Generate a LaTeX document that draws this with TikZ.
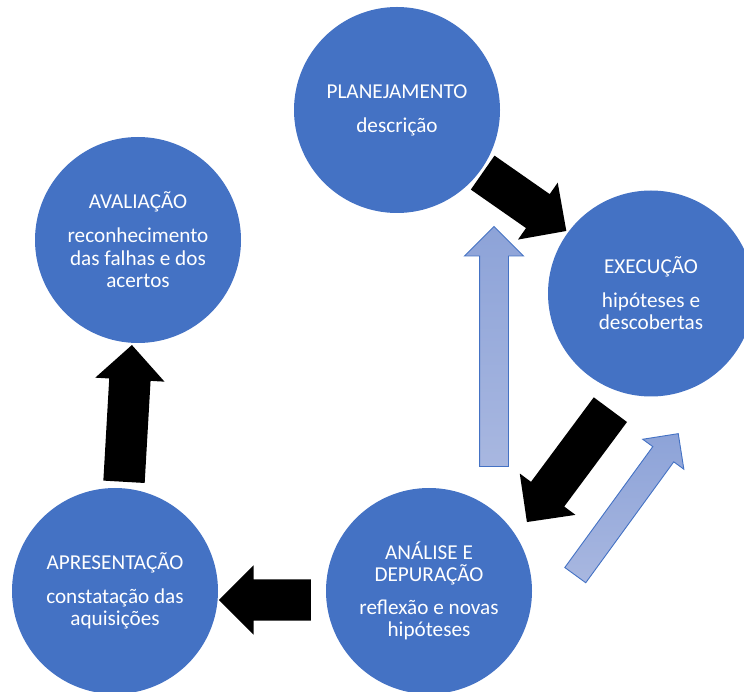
\documentclass[tikz,border=0pt]{standalone}
\usepackage{fontspec}
\setmainfont{Carlito}
\usetikzlibrary{shapes.arrows,positioning}

\definecolor{stageblue}{HTML}{4472C4}
\definecolor{backtip}{HTML}{8DA3D8}
\definecolor{backtail}{HTML}{A8B7E0}

\begin{document}
\begin{tikzpicture}[x=1pt, y=1pt, node distance = 314pt]

\tikzstyle{stage} = [circle, fill=stageblue, draw=none, minimum size=206pt, inner sep=0pt, text=white, align=center, font=\fontsize{21.2}{22.5}\selectfont]
\tikzstyle{flow} = [single arrow, fill=black, draw=none, anchor=tail, inner xsep=0pt, inner ysep=20.5pt, minimum width=1pt, single arrow head extend=14pt, single arrow tip angle=90]
\tikzstyle{back} = [single arrow, draw=stageblue, line width=0.9pt, top color=backtip, bottom color=backtail, anchor=tail, inner xsep=0pt, minimum width=1pt, single arrow tip angle=90]

\useasboundingbox (0,0) rectangle (744,691);

%% ------------
%% -- STAGES --
%% ------------

\node (planej) 		[stage] at (397,581) {PLANEJAMENTO\\[11.5pt]descrição};
\node (exec) 		[stage] at (651,397.5) {EXECUÇÃO\\[11pt]hipóteses e\\descobertas};
\node (apres) 		[stage] at (115,100) {APRESENTAÇÃO\\[11.5pt]constatação das\\aquisições};
\node (anal_dep) 	[stage, right of=apres] {ANÁLISE E\\DEPURAÇÃO\\[10pt]reflexão e novas\\hipóteses};
\node (aval) 		[stage] at (138,451) {AVALIAÇÃO\\[11.5pt]reconhecimento\\das falhas e dos\\acertos};

%% ------------
%% -- ARROWS --
%% ------------

% main cycle
\node (planej_exec) 	[flow, rotate=-34.9, minimum height=102pt] at (482.5,518.5) {};
\node (exec_anal) 	[flow, rotate=-126.6, minimum height=140pt] at (610.5,281.5) {};
\node (anal_apres) 	[flow, rotate=180, minimum height=92pt] at (311,91) {};
\node (apres_aval) 	[flow, rotate=86.7, minimum height=137pt] at (124,209) {};

% going back
\node (anal_exec) 	[back, rotate=53.95, minimum height=175pt, inner ysep=12.5pt, single arrow head extend=12.5pt] at (575,115.5) {};
\node (anal_planej) 	[back, rotate=90, minimum height=240pt, inner ysep=14pt, single arrow head extend=15pt] at (494,224) {};

\end{tikzpicture}
\end{document}
